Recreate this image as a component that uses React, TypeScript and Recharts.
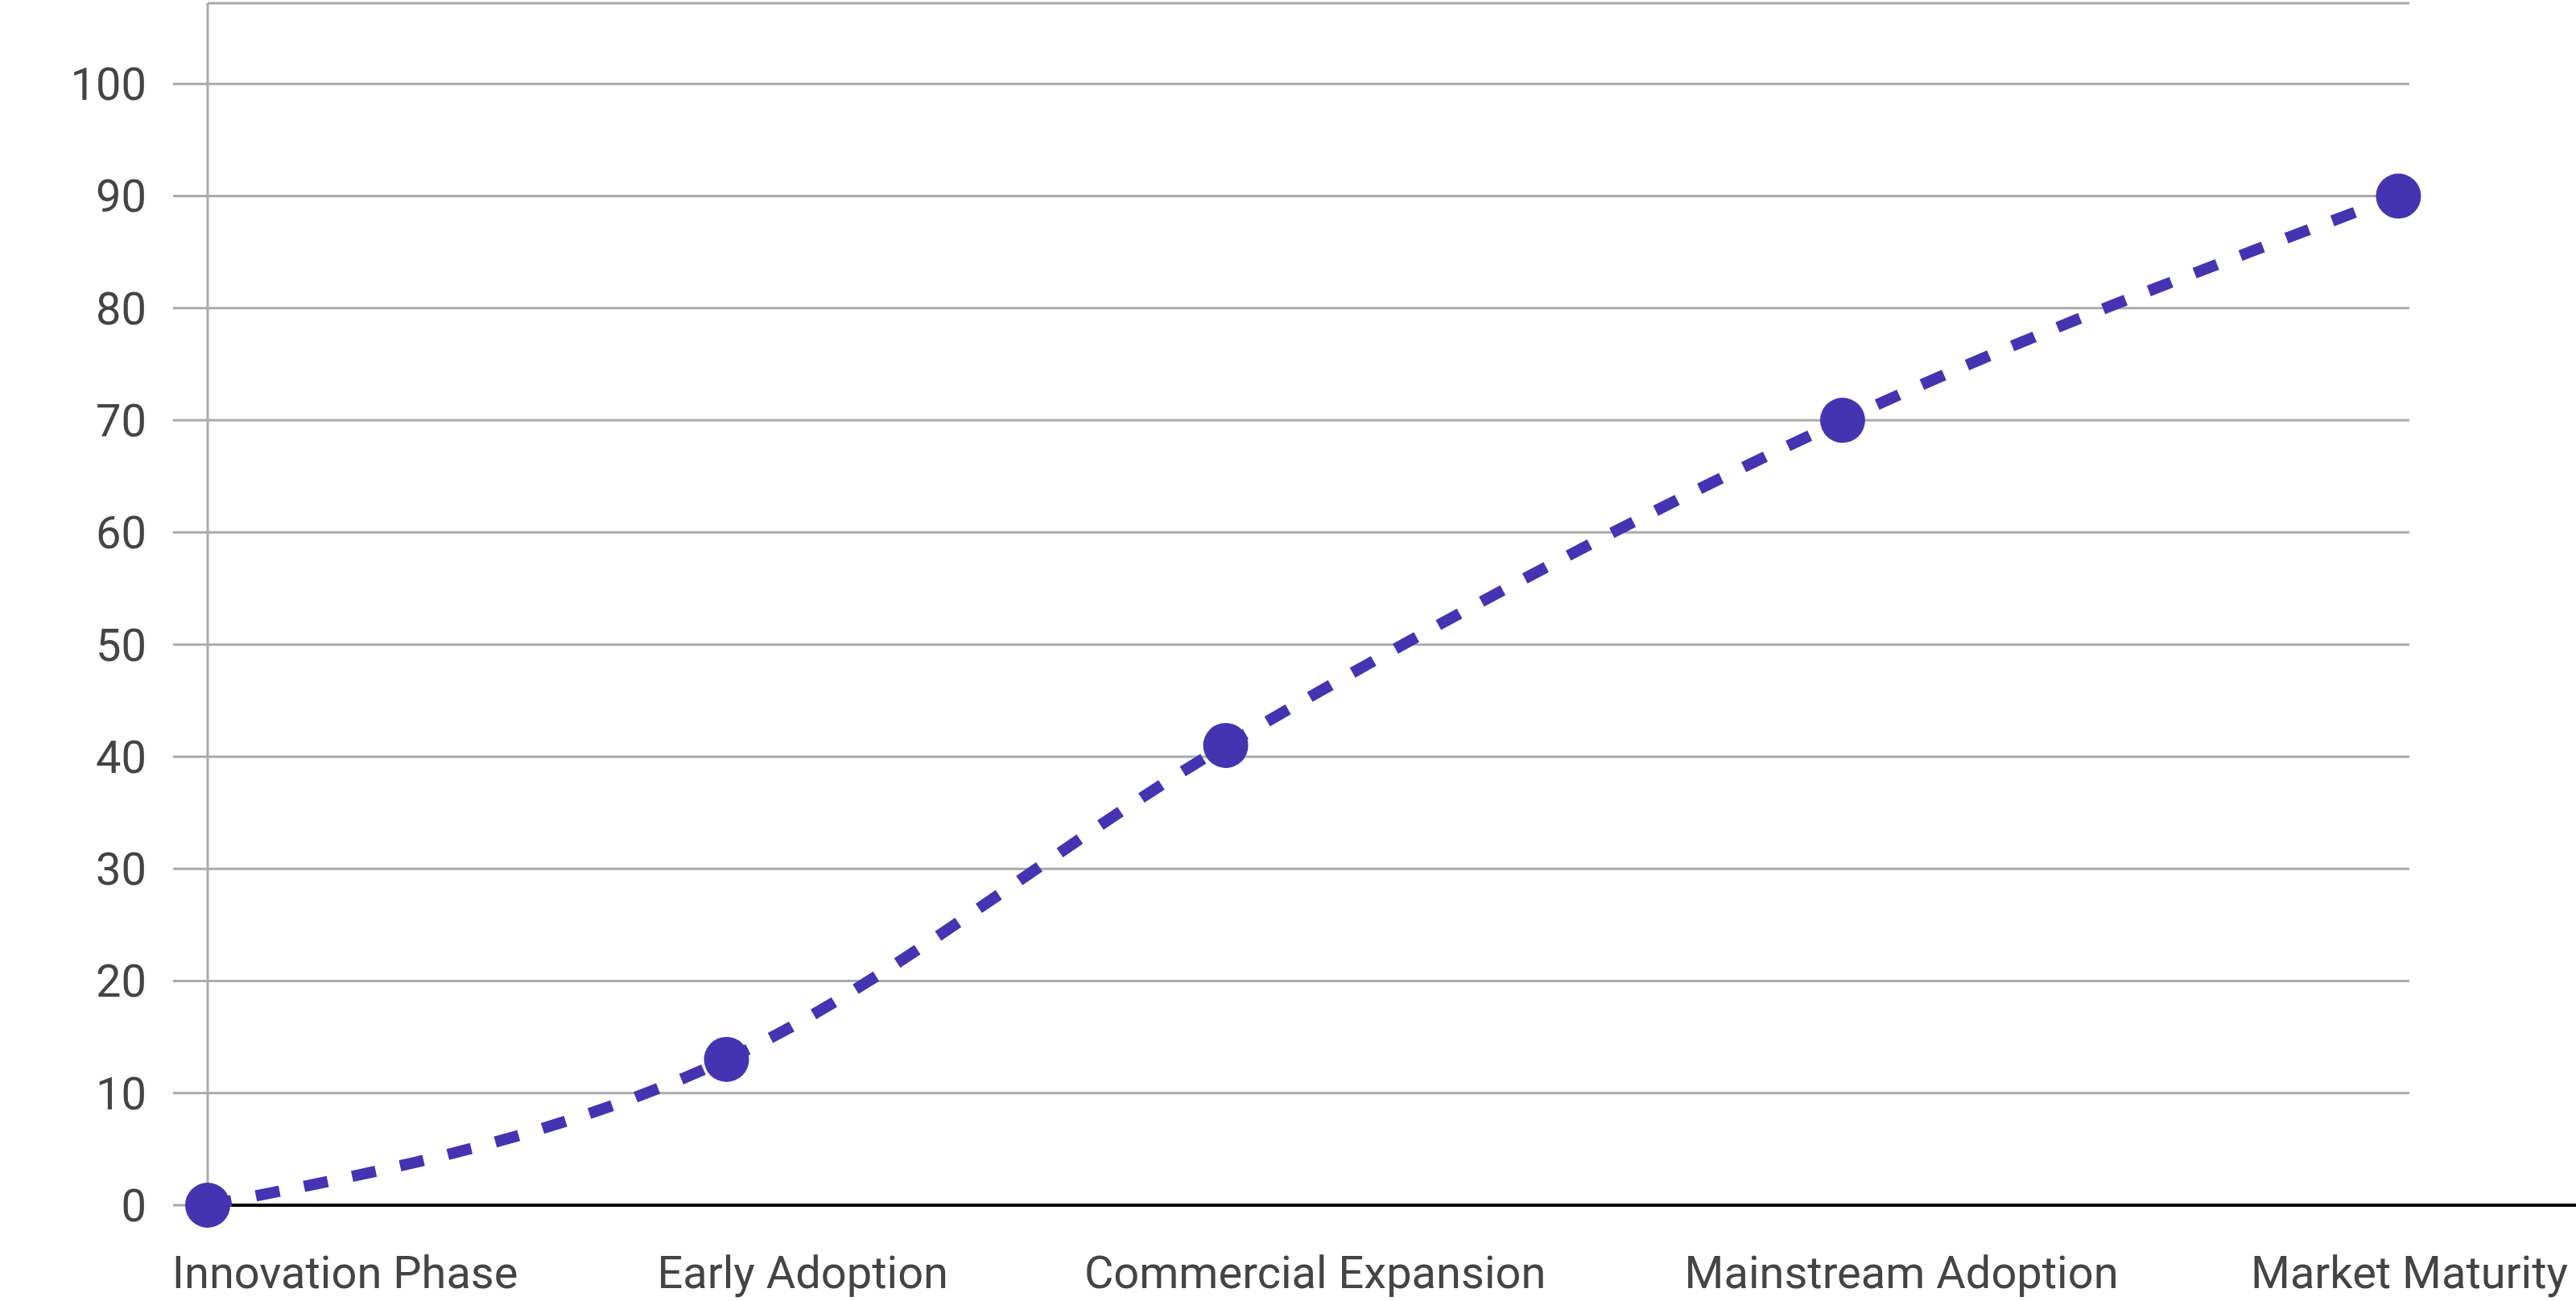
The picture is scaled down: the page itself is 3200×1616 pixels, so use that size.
import { LineChart, Line, XAxis, YAxis, CartesianGrid, ReferenceLine } from "recharts";

const stages = [
  "Innovation Phase",
  "Early Adoption",
  "Commercial Expansion",
  "Mainstream Adoption",
  "Market Maturity",
];
// where each stage sits along the (continuous) horizontal axis
const stagePosition = [0, 2.38, 4.67, 7.5, 10.05];
const adoption = [0, 13, 41, 70, 90];
// horizontal positions of the category labels
const labelPosition = [0.63, 2.73, 5.08, 7.77, 10.1];
const yTicks = [0, 10, 20, 30, 40, 50, 60, 70, 80, 90, 100];

const COLOR = "#4434b2";
const GRID = "#aaaaaa";

const data = stages.map((stage, i) => ({
  stage,
  x: stagePosition[i],
  value: adoption[i],
}));

function stageLabel(v: number): string {
  const i = labelPosition.indexOf(v);
  return i >= 0 ? stages[i] : "";
}

export default function App() {
  return (
    <div style={{ position: "absolute", left: 0, top: 0, fontFamily: "Roboto" }}>
      <LineChart
        width={3200}
        height={1616}
        data={data}
        margin={{ top: 4, right: 207, bottom: 0, left: 0 }}
      >
        <CartesianGrid vertical={false} stroke={GRID} strokeWidth={3} />
        <XAxis
          type="number"
          dataKey="x"
          domain={[0, 10.1]}
          ticks={labelPosition}
          tickFormatter={stageLabel}
          interval={0}
          height={119}
          axisLine={false}
          tickLine={false}
          tickSize={0}
          tickMargin={63}
          tick={{ fill: "#444", fontSize: 56, fontFamily: "Roboto" }}
        />
        <YAxis
          domain={[0, 107.2]}
          ticks={yTicks}
          interval={0}
          width={258}
          axisLine={{ stroke: GRID, strokeWidth: 3 }}
          tickLine={{ stroke: GRID, strokeWidth: 3 }}
          tickSize={43}
          tickMargin={33}
          tick={{ fill: "#444", fontSize: 56, fontFamily: "Roboto" }}
        />
        <ReferenceLine
          segment={[
            { x: 0, y: 0 },
            { x: 12, y: 0 },
          ]}
          ifOverflow="visible"
          stroke="#000"
          strokeWidth={4}
        />
        <Line
          type="monotone"
          dataKey="value"
          stroke={COLOR}
          strokeWidth={14}
          strokeDasharray="30 31"
          dot={{ r: 28, fill: COLOR, stroke: "none", strokeWidth: 0, strokeDasharray: "none" }}
          activeDot={false}
          isAnimationActive={false}
        />
      </LineChart>
    </div>
  );
}
